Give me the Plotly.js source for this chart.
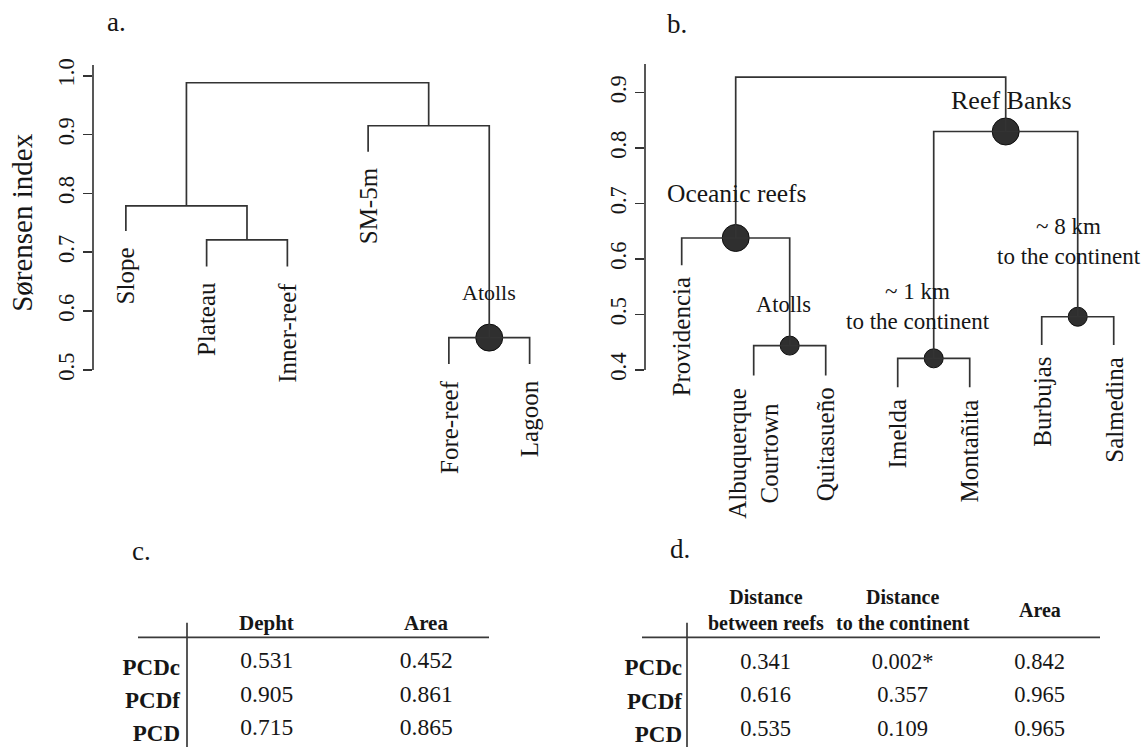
<!DOCTYPE html>
<html><head><meta charset="utf-8">
<script src="https://cdn.plot.ly/plotly-3.0.1.min.js"></script>
<style>html,body{margin:0;padding:0;background:#fff;} #chart{width:1145px;height:747px;}</style>
</head><body><div id="chart"></div>
<script>
// ================= DATA =================
// Panel a: dendrogram (Sørensen index)
const aLeafLabels  = ['Slope', 'Plateau', 'Inner-reef', 'SM-5m', 'Fore-reef', 'Lagoon'];
const aLeafHeights = [0.736, 0.676, 0.676, 0.871, 0.510, 0.510];
const aMergeLeft   = [-2, -5, -1, -4, 3];   // negative = leaf (display order), positive = merge number
const aMergeRight  = [-3, -6,  1,  2, 4];
const aMergeHeight = [0.721, 0.555, 0.779, 0.915, 0.988];
const aNodeLabels  = ['', 'Atolls', '', '', ''];
const aNodeCircle  = ['', 'big', '', '', ''];
const aTicks       = [0.5, 0.6, 0.7, 0.8, 0.9, 1.0];

// Panel b: dendrogram
const bLeafLabels  = ['Providencia', 'Albuquerque<br>Courtown', 'Quitasueño', 'Imelda', 'Montañita', 'Burbujas', 'Salmedina'];
const bLeafHeights = [0.589, 0.390, 0.390, 0.369, 0.369, 0.445, 0.445];
const bMergeLeft   = [-2, -4, -6, -1, 2, 4];
const bMergeRight  = [-3, -5, -7,  1, 3, 5];
const bMergeHeight = [0.444, 0.421, 0.496, 0.638, 0.830, 0.928];
const bNodeLabels  = ['Atolls', '~ 1 km<br>to the continent', '~ 8 km<br>to the continent', 'Oceanic reefs', 'Reef Banks', ''];
const bNodeCircle  = ['small', 'small', 'small', 'big', 'big', ''];
const bTicks       = [0.4, 0.5, 0.6, 0.7, 0.8, 0.9];

// Panel c: table
const cColumns = ['Depht', 'Area'];
const cRows    = ['PCDc', 'PCDf', 'PCD'];
const cDepht   = [0.531, 0.905, 0.715];
const cArea    = [0.452, 0.861, 0.865];

// Panel d: table
const dColumnKeys = ['between', 'continent', 'area'];
const dColumns    = ['Distance<br>between reefs', 'Distance<br>to the continent', 'Area'];
const dRows       = ['PCDc', 'PCDf', 'PCD'];
const dBetween    = [0.341, 0.616, 0.535];
const dContinent  = [0.002, 0.357, 0.109];
const dContinentSig = [true, false, false];
const dArea       = [0.842, 0.965, 0.965];

// ================= STYLE / LAYOUT =================
const W = 1145, H = 747;
const FONT = 'Liberation Serif, Times New Roman, serif';
const TXT = '#161616', LINE = '#333333';
const PX = v => v / W, PY = v => 1 - v / H;

function buildTree(leafH, mL, mR, mH) {
  const leafX = leafH.map((_, i) => i + 1);
  const nodeX = [];
  const xs = [], ys = [];
  const pos = k => k < 0 ? {x: leafX[-k - 1], y: leafH[-k - 1]} : {x: nodeX[k - 1], y: mH[k - 1]};
  for (let m = 0; m < mH.length; m++) {
    const L = pos(mL[m]), R = pos(mR[m]);
    nodeX[m] = (L.x + R.x) / 2;
    xs.push(L.x, L.x, R.x, R.x, null);
    ys.push(L.y, mH[m], mH[m], R.y, null);
  }
  return {xs, ys, nodeX, leafX};
}

const tA = buildTree(aLeafHeights, aMergeLeft, aMergeRight, aMergeHeight);
const tB = buildTree(bLeafHeights, bMergeLeft, bMergeRight, bMergeHeight);

const circleSize = {big: 27, small: 19};
function circleTrace(tree, mH, kinds, xa, ya) {
  const x = [], y = [], s = [];
  kinds.forEach((k, i) => { if (k) { x.push(tree.nodeX[i]); y.push(mH[i]); s.push(circleSize[k]); } });
  return {type: 'scatter', mode: 'markers', x, y, xaxis: xa, yaxis: ya,
    marker: {size: s, color: '#2f2f2f', opacity: 1, line: {color: '#0e0e0e', width: 1}}, hoverinfo: 'skip', cliponaxis: false};
}
function lineTrace(tree, xa, ya) {
  return {type: 'scatter', mode: 'lines', x: tree.xs, y: tree.ys, xaxis: xa, yaxis: ya,
    line: {color: LINE, width: 1.7}, hoverinfo: 'skip'};
}
function tableTrace(colKeys, rows, cols, fmt, xa, ya, size) {
  const x = [], y = [], t = [];
  cols.forEach((vals, j) => vals.forEach((v, i) => { x.push(colKeys[j]); y.push(rows[i]); t.push(fmt(v, j, i)); }));
  return {type: 'scatter', mode: 'text', x, y, text: t, xaxis: xa, yaxis: ya, cliponaxis: false,
    textposition: 'middle center', textfont: {family: FONT, size: size, color: TXT}, hoverinfo: 'skip'};
}

const traces = [
  circleTrace(tA, aMergeHeight, aNodeCircle, 'x', 'y'),
  lineTrace(tA, 'x', 'y'),
  circleTrace(tB, bMergeHeight, bNodeCircle, 'x2', 'y2'),
  lineTrace(tB, 'x2', 'y2'),
  tableTrace(cColumns, cRows, [cDepht, cArea], v => v.toFixed(3), 'x3', 'y3', 23.5),
  tableTrace(dColumnKeys, dRows, [dBetween, dContinent, dArea],
    (v, j, i) => v.toFixed(3) + (j === 1 && dContinentSig[i] ? '*' : ''), 'x4', 'y4', 22.5)
];

const annotations = [];
const ann = o => annotations.push(Object.assign({showarrow: false, xanchor: 'center', yanchor: 'middle',
  font: {family: FONT, size: 22, color: TXT}}, o));

// panel letters
ann({text: 'a.', xref: 'paper', yref: 'paper', x: PX(116), y: PY(22), font: {family: FONT, size: 27, color: TXT}});
ann({text: 'b.', xref: 'paper', yref: 'paper', x: PX(677), y: PY(24), font: {family: FONT, size: 27, color: TXT}});
ann({text: 'c.', xref: 'paper', yref: 'paper', x: PX(141), y: PY(551), font: {family: FONT, size: 27, color: TXT}});
ann({text: 'd.', xref: 'paper', yref: 'paper', x: PX(680), y: PY(549), font: {family: FONT, size: 27, color: TXT}});

// axis title
ann({text: 'Sørensen index', xref: 'paper', yref: 'y', x: PX(22), y: 0.75, textangle: -90,
  font: {family: FONT, size: 29, color: TXT}});

// leaf labels
aLeafLabels.forEach((lab, i) => ann({text: lab, xref: 'x', yref: 'y', x: tA.leafX[i], y: aLeafHeights[i],
  yanchor: 'top', yshift: -14, textangle: -90, font: {family: FONT, size: 25, color: TXT}}));
bLeafLabels.forEach((lab, i) => ann({text: lab, xref: 'x2', yref: 'y2', x: tB.leafX[i], y: bLeafHeights[i],
  yanchor: 'top', yshift: -10, textangle: -90, align: 'center', font: {family: FONT, size: 25, color: TXT}}));

// node labels  [xshift, yshift, font size]
const aNodeShift = [null, [0, 45, 22]];
aNodeLabels.forEach((lab, i) => { if (lab) ann({text: lab, xref: 'x', yref: 'y', x: tA.nodeX[i], y: aMergeHeight[i],
  xshift: aNodeShift[i][0], yshift: aNodeShift[i][1], font: {family: FONT, size: aNodeShift[i][2], color: TXT}}); });
const bNodeShift = [[-6, 41, 22.5], [-16, 52, 23], [-9, 75, 23], [1, 44, 25.5], [6, 31, 26]];
bNodeLabels.forEach((lab, i) => { if (lab) ann({text: lab, xref: 'x2', yref: 'y2', x: tB.nodeX[i], y: bMergeHeight[i],
  xshift: bNodeShift[i][0], yshift: bNodeShift[i][1], align: 'center', font: {family: FONT, size: bNodeShift[i][2], color: TXT}}); });

// table headers
cColumns.forEach(c => ann({text: '<b>' + c + '</b>', xref: 'x3', yref: 'paper', x: c, y: PY(623),
  font: {family: FONT, size: 21, color: TXT}}));
dColumnKeys.forEach((k, j) => ann({text: '<b>' + dColumns[j] + '</b>', xref: 'x4', yref: 'paper', x: k, y: PY(610),
  align: 'center', font: {family: FONT, size: 20, color: TXT}}));

const rule = {color: '#3a3a3a', width: 1.7};
const shapes = [
  // dendrogram axis lines
  {type: 'line', xref: 'x domain', yref: 'y', x0: 0, x1: 0, y0: aTicks[0], y1: 1.0182, line: rule},
  {type: 'line', xref: 'x2 domain', yref: 'y2', x0: 0, x1: 0, y0: bTicks[0], y1: 0.9517, line: rule},
  // table rules
  {type: 'line', xref: 'paper', yref: 'paper', x0: PX(138), x1: PX(489), y0: PY(637.3), y1: PY(637.3), line: rule},
  {type: 'line', xref: 'paper', yref: 'paper', x0: PX(187), x1: PX(187), y0: PY(622.7), y1: PY(747), line: rule},
  {type: 'line', xref: 'paper', yref: 'paper', x0: PX(642), x1: PX(1100), y0: PY(637.3), y1: PY(637.3), line: rule},
  {type: 'line', xref: 'paper', yref: 'paper', x0: PX(687), x1: PX(687), y0: PY(622.7), y1: PY(747), line: rule}
];

const yDend = (range, ticks) => ({range: range,
  tickmode: 'array', tickvals: ticks, ticktext: ticks.map(v => v.toFixed(1)), ticks: 'outside', ticklen: 9,
  tickwidth: 1.6, tickcolor: LINE, tickangle: -90, tickfont: {family: FONT, size: 22.5, color: TXT},
  showline: false, showgrid: false, zeroline: false, fixedrange: true});
const hidden = (dom, range, extra) => Object.assign({domain: dom, range: range, visible: false, showgrid: false,
  zeroline: false, fixedrange: true}, extra || {});

const layout = {
  width: W, height: H, margin: {l: 0, r: 0, t: 0, b: 0}, paper_bgcolor: '#fff', plot_bgcolor: 'rgba(0,0,0,0)',
  showlegend: false, hovermode: false,
  xaxis:  hidden([PX(93), PX(570)], [0.593, 6.5], {anchor: 'y'}),
  yaxis:  Object.assign(yDend([0.2961, 1.0182], aTicks), {domain: [PY(490), PY(65)], anchor: 'x'}),
  xaxis2: hidden([PX(645), PX(1140)], [0.4903, 7.365], {anchor: 'y2'}),
  yaxis2: Object.assign(yDend([0.1836, 0.9517], bTicks), {domain: [PY(490), PY(64)], anchor: 'x2'}),
  xaxis3: hidden([PX(187), PX(506)], [-0.5, 1.5], {type: 'category', categoryarray: cColumns, anchor: 'y3'}),
  yaxis3: {domain: [PY(746), PY(645.8)], type: 'category', categoryarray: cRows, range: [2.5, -0.5], anchor: 'x3',
    showgrid: false, zeroline: false, showline: false, ticks: '', ticklabelstandoff: 6, ticklabelshift: -4, fixedrange: true,
    tickfont: {family: FONT, size: 23, color: TXT, weight: 'bold'}},
  xaxis4: hidden([PX(687), PX(1108)], [-0.574, 2.499], {type: 'category', categoryarray: dColumnKeys, anchor: 'y4'}),
  yaxis4: {domain: [0, PY(646.6)], type: 'category', categoryarray: dRows, range: [2.5, -0.5], anchor: 'x4',
    showgrid: false, zeroline: false, showline: false, ticks: '', ticklabelstandoff: 4, ticklabelshift: -4, fixedrange: true,
    tickfont: {family: FONT, size: 23, color: TXT, weight: 'bold'}},
  annotations: annotations,
  shapes: shapes
};

Plotly.newPlot('chart', traces, layout, {staticPlot: true, displayModeBar: false});
</script></body></html>
